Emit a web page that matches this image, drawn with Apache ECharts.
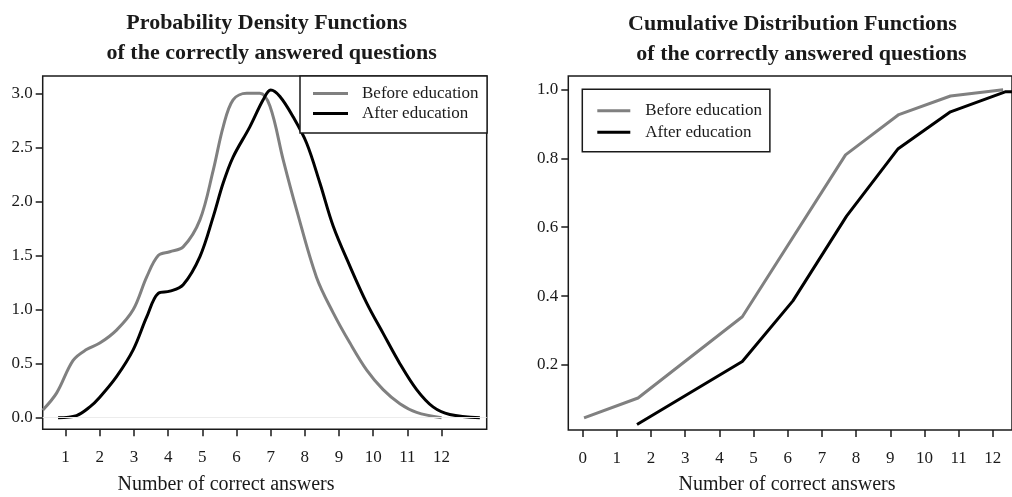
<!DOCTYPE html>
<html><head><meta charset="utf-8">
<script src="https://cdn.jsdelivr.net/npm/echarts@6/dist/echarts.min.js"></script>
<style>html,body{margin:0;padding:0;background:#fff}#c{width:1012px;height:497px}</style>
</head><body><div id="c"></div>
<script>
// ---- data ----
const seriesNames = ['Before education', 'After education'];
const pdfBefore = [[0.33,0.07],[0.74,0.23],[1.22,0.53],[1.61,0.63],[2.0,0.69],[2.49,0.81],[2.98,1.0],[3.37,1.30],[3.71,1.50],[4.05,1.535],[4.44,1.58],[4.93,1.83],[5.32,2.29],[5.61,2.69],[5.90,2.94],[6.30,3.0],[6.68,3.0],[6.98,2.88],[7.37,2.38],[7.76,1.92],[8.34,1.30],[8.83,0.97],[9.32,0.69],[9.81,0.44],[10.29,0.26],[10.78,0.13],[11.27,0.05],[12.0,0.0]];
const pdfAfter = [[0.78,0],[1.32,0.02],[1.71,0.10],[2.0,0.19],[2.49,0.38],[2.98,0.63],[3.37,0.93],[3.71,1.15],[4.05,1.17],[4.44,1.23],[4.93,1.49],[5.32,1.86],[5.61,2.17],[5.90,2.41],[6.39,2.69],[6.78,2.94],[7.0,3.03],[7.27,2.97],[7.66,2.78],[8.05,2.54],[8.44,2.17],[8.83,1.77],[9.32,1.40],[9.81,1.06],[10.29,0.78],[10.78,0.50],[11.27,0.26],[11.75,0.10],[12.24,0.03],[13.12,0]];
const cdfBefore = [[0.04,0.046],[1.62,0.104],[4.67,0.340],[7.69,0.810],[9.25,0.927],[10.76,0.981],[12.30,0.999]];
const cdfAfter = [[1.59,0.027],[4.67,0.210],[6.15,0.386],[7.72,0.632],[9.23,0.828],[10.76,0.935],[12.36,0.993],[12.6,0.993]];
const pdfXTicks = [1,2,3,4,5,6,7,8,9,10,11,12];
const cdfXTicks = [0,1,2,3,4,5,6,7,8,9,10,11,12];
const pdfYTicks = [0,0.5,1.0,1.5,2.0,2.5,3.0];
const cdfYTicks = [0.2,0.4,0.6,0.8,1.0];
const titleLeft = ['Probability Density Functions', 'of the correctly answered questions'];
const titleRight = ['Cumulative Distribution Functions', 'of the correctly answered questions'];
const xName = 'Number of correct answers';

// ---- styles ----
const FONT = '"Liberation Serif", "Times New Roman", serif';
const INK = '#1a1a1a';
const GRAY = '#808080';
const BLACK = '#000000';

const chart = echarts.init(document.getElementById('c'), null, {renderer: 'canvas'});

function xAxis(idx, min, max, ticks) {
  return {
    type: 'value', gridIndex: idx, min: min, max: max, position: 'bottom',
    axisLine: {show: false, onZero: false},
    splitLine: {show: false},
    axisTick: {show: true, inside: false, length: 7, customValues: ticks, lineStyle: {color: INK, width: 1.5}},
    axisLabel: {customValues: ticks, margin: 20, fontFamily: FONT, fontSize: 17, lineHeight: 17, color: INK}
  };
}
function yAxis(idx, min, max, ticks) {
  return {
    type: 'value', gridIndex: idx, min: min, max: max, position: 'left',
    axisLine: {show: false, onZero: false},
    splitLine: {show: false},
    axisTick: {show: true, inside: false, length: 7, customValues: ticks, lineStyle: {color: INK, width: 1.5}},
    axisLabel: {customValues: ticks, margin: 10, fontFamily: FONT, fontSize: 17, color: INK,
      formatter: v => Number(v).toFixed(1)}
  };
}
function legend(left, top, pad, gap, iconW, textGap) {
  return {
    show: true, orient: 'vertical', left: left, top: top, padding: pad, itemGap: gap,
    itemWidth: iconW, itemHeight: 3, icon: 'rect', selectedMode: false,
    borderColor: INK, borderWidth: 1.5, borderRadius: 0, backgroundColor: '#fff',
    data: seriesNames,
    textStyle: {fontFamily: FONT, fontSize: 17, lineHeight: 17, color: INK, padding: [0, 0, 0, textGap - 5]},
    z: 10
  };
}
function text(x, y, s, size, bold) {
  return {type: 'text', x: x, y: y, silent: true,
    style: {text: s, font: (bold ? 'bold ' : '') + size + 'px ' + FONT, fill: INK, textAlign: 'center', textVerticalAlign: 'middle'}};
}

const option = {
  animation: false,
  backgroundColor: '#fff',
  grid: [
    {left: 42.7, top: 76, width: 444, height: 353.3, show: true, borderColor: INK, borderWidth: 1.5, containLabel: false},
    {left: 568.3, top: 76, width: 446, height: 354, show: true, borderColor: INK, borderWidth: 1.5, containLabel: false}
  ],
  xAxis: [xAxis(0, 0.33, 13.32, pdfXTicks), xAxis(1, -0.42, 12.56, cdfXTicks)],
  yAxis: [yAxis(0, -0.107, 3.16, pdfYTicks), yAxis(1, 0.011, 1.039, cdfYTicks)],
  legend: [
    legend(300, 76, [9, 8.5, 11, 13], 3, 35, 14),
    legend(582.3, 89.3, [13, 8, 11, 15], 4.5, 33, 15)
  ],
  graphic: [
    text(266.7, 23, titleLeft[0], 22, true),
    text(271.7, 53.5, titleLeft[1], 22, true),
    text(792.5, 24, titleRight[0], 22, true),
    text(801.5, 54.5, titleRight[1], 22, true),
    text(226, 485, xName, 20, false),
    text(787, 485, xName, 20, false)
  ],
  series: [
    {name: seriesNames[0], type: 'line', xAxisIndex: 0, yAxisIndex: 0, data: pdfBefore, smooth: 0.35, showSymbol: false,
      color: GRAY, lineStyle: {color: GRAY, width: 3}, z: 3,
      markLine: {silent: true, symbol: 'none', label: {show: false}, lineStyle: {color: '#ececec', width: 1, type: 'solid'}, data: [{yAxis: 0}]}},
    {name: seriesNames[1], type: 'line', xAxisIndex: 0, yAxisIndex: 0, data: pdfAfter, smooth: 0.35, showSymbol: false,
      color: BLACK, lineStyle: {color: BLACK, width: 3}, z: 4},
    {name: seriesNames[0], type: 'line', xAxisIndex: 1, yAxisIndex: 1, data: cdfBefore, showSymbol: false,
      color: GRAY, lineStyle: {color: GRAY, width: 3}, z: 3},
    {name: seriesNames[1], type: 'line', xAxisIndex: 1, yAxisIndex: 1, data: cdfAfter, showSymbol: false,
      color: BLACK, lineStyle: {color: BLACK, width: 3}, z: 4}
  ]
};
chart.setOption(option);
</script></body></html>
